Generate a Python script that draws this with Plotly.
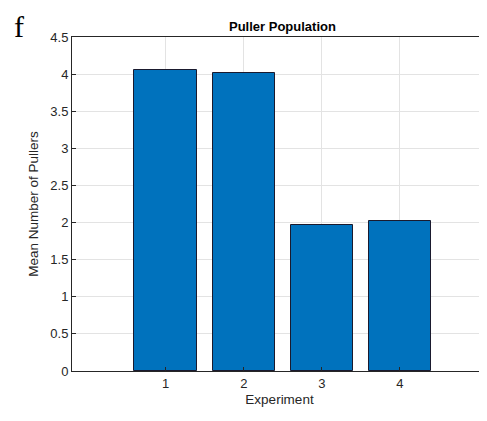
import plotly.graph_objects as go

experiments = [1, 2, 3, 4]
mean_pullers = [4.05, 4.02, 1.97, 2.02]
y_ticks = [0, 0.5, 1, 1.5, 2, 2.5, 3, 3.5, 4, 4.5]
y_tick_labels = ["0", "0.5", "1", "1.5", "2", "2.5", "3", "3.5", "4", "4.5"]

# page body has an 8px margin; figure is sized to fill the rest of the window
W, H = 479, 413
L, T, B = 64, 29, 50

fig = go.Figure()
fig.add_trace(go.Bar(
    x=experiments, y=mean_pullers, width=0.8,
    marker=dict(color="#0072BD", line=dict(color="#1a1a2e", width=1)),
))

font_family = "Liberation Sans, Arial, sans-serif"
fig.update_layout(
    width=W, height=H,
    margin=dict(l=L, r=0, t=T, b=B, pad=0, autoexpand=False),
    paper_bgcolor="white", plot_bgcolor="white",
    showlegend=False,
    font=dict(family=font_family, size=12, color="#262626"),
    bargap=0,
    xaxis=dict(
        range=[-0.2, 5.115], tickvals=experiments, ticktext=[str(e) for e in experiments],
        showgrid=True, gridcolor="#e3e3e3", gridwidth=1,
        showline=True, linecolor="#262626", linewidth=1, mirror=True,
        ticks="inside", ticklen=4, tickcolor="#262626",
        tickfont=dict(size=13, color="#262626"),
        title=dict(text="Experiment", font=dict(size=13.5, color="#262626"), standoff=4),
        zeroline=False, automargin=False,
    ),
    yaxis=dict(
        range=[0, 4.5], tickvals=y_ticks, ticktext=y_tick_labels,
        showgrid=True, gridcolor="#e3e3e3", gridwidth=1,
        showline=True, linecolor="#262626", linewidth=1, mirror=False,
        ticks="inside", ticklen=4, tickcolor="#262626",
        tickfont=dict(size=13, color="#262626"),
        title=dict(text="Mean Number of Pullers", font=dict(size=13.5, color="#262626"), standoff=8),
        zeroline=False, automargin=False,
    ),
    annotations=[
        dict(text="<b>Puller Population</b>", x=2.5, xref="x", y=1, yref="paper",
             yanchor="bottom", yshift=1, showarrow=False,
             font=dict(size=13, color="#000000", family=font_family)),
        dict(text="f", x=0, y=1, xref="paper", yref="paper",
             showarrow=False, font=dict(size=30, family="Liberation Serif, Times New Roman, serif", color="#000")),
    ],
)
plot_w = W - L
plot_h = H - T - B
fig.layout.annotations[1].update(x=(4 - L) / plot_w, y=1 + T / plot_h,
                                 xanchor="left", yanchor="top")

fig.write_html("out.html")
